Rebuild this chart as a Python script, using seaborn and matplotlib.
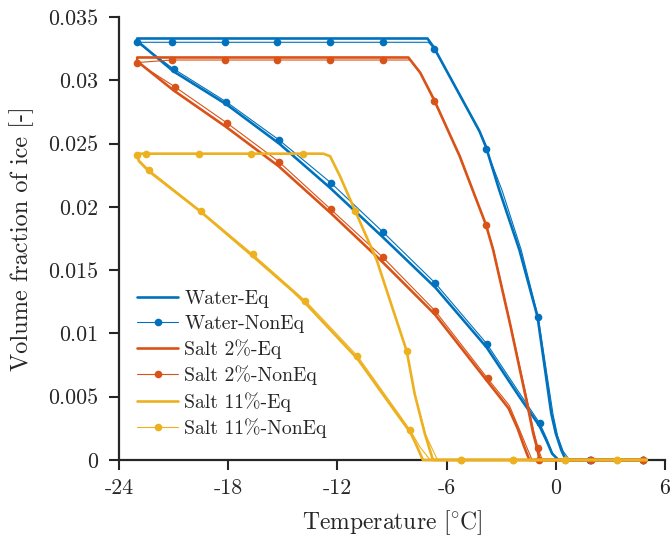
import numpy as np
import pandas as pd
import matplotlib
matplotlib.use("Agg")
import matplotlib.pyplot as plt
import seaborn as sns

# ---------------- data ----------------
water_eq_T = [5.0, 0.15, -0.2, -0.5, -0.9, -2.0, -3.8, -6.6, -9.5, -12.4, -15.2, -18.1, -21.0, -23.0,
              -23.0, -7.05, -6.7, -5.3, -4.2, -3.85, -3.1, -2.0, -1.0, -0.25, 0.0, 0.3, 0.55, 5.0]
water_eq_phi = [0, 0, 0.0005, 0.0015, 0.0027, 0.0050, 0.0089, 0.0136, 0.0176, 0.0215, 0.0250, 0.0281, 0.0307, 0.0331,
                0.0333, 0.0333, 0.0326, 0.0289, 0.0260, 0.0248, 0.0213, 0.0166, 0.0113, 0.0037, 0.0021, 0.0008, 0, 0]

water_neq_T = [5.0, 4.8, 1.9, 0.1, -0.2, -0.5, -0.88, -2.0, -3.8, -6.64, -9.49, -12.36, -15.22, -18.11, -21.0, -23.0,
               -21.1, -18.2, -15.3, -12.4, -9.5, -7.0, -6.68, -5.25, -4.15, -3.84, -2.95, -1.9, -0.97, -0.15,
               0.1, 0.4, 0.75, 1.9, 4.8, 5.0]
water_neq_phi = [0, 0, 0, 0, 0.0006, 0.0017, 0.0029, 0.0053, 0.0092, 0.0140, 0.0180, 0.0219, 0.0253, 0.0283, 0.0309, 0.0330,
                 0.0330, 0.0330, 0.0330, 0.0330, 0.0330, 0.0330, 0.0325, 0.0288, 0.0258, 0.0246, 0.0213, 0.0166, 0.0113, 0.0036,
                 0.0019, 0.0007, 0, 0, 0, 0]
water_neq_sampled = [0, 1, 1, 0, 0, 0, 1, 0, 1, 1, 1, 1, 1, 1, 1, 1,
                     1, 1, 1, 1, 1, 0, 1, 0, 0, 1, 0, 0, 1, 0,
                     0, 0, 0, 1, 1, 0]

salt2_eq_T = [5.0, -1.45, -1.75, -2.1, -2.6, -3.75, -6.64, -9.49, -12.36, -15.22, -18.1, -21.0, -23.0,
              -23.0, -8.1, -7.45, -6.7, -5.28, -3.84, -3.44, -2.52, -1.61, -1.24, -1.0, -0.9, 5.0]
salt2_eq_phi = [0, 0, 0.0011, 0.0025, 0.0041, 0.0062, 0.0115, 0.0156, 0.0195, 0.0232, 0.0263, 0.0292, 0.0315,
                0.0318, 0.0318, 0.0306, 0.0285, 0.0240, 0.0186, 0.0166, 0.0108, 0.0047, 0.0021, 0.0008, 0, 0]

salt2_neq_T = [5.0, 4.79, 1.96, -0.93, -1.3, -1.65, -2.05, -2.55, -3.75, -6.64, -9.49, -12.36, -15.22, -18.09, -20.95, -23.0,
               -21.1, -18.2, -15.3, -12.4, -9.5, -8.0, -7.4, -6.7, -5.25, -3.84, -3.42, -2.5, -1.58, -1.2,
               -0.97, -0.75, 1.96, 4.79, 5.0]
salt2_neq_phi = [0, 0, 0, 0, 0, 0.0012, 0.0026, 0.0043, 0.00645, 0.0118, 0.0160, 0.0198, 0.02357, 0.02665, 0.0295, 0.0314,
                 0.0316, 0.0316, 0.0316, 0.0316, 0.0316, 0.0316, 0.0305, 0.0284, 0.0240, 0.01857, 0.0166, 0.0108, 0.0048, 0.0022,
                 0.00092, 0, 0, 0, 0]
salt2_neq_sampled = [0, 1, 1, 1, 0, 0, 0, 0, 1, 1, 1, 1, 1, 1, 1, 1,
                     1, 1, 1, 1, 1, 0, 0, 1, 0, 1, 0, 0, 0, 0,
                     1, 0, 1, 1, 0]

salt11_eq_T = [5.0, -7.3, -7.7, -8.0, -8.56, -10.9, -13.77, -14.42, -16.65, -19.5, -22.35, -22.9, -23.0,
               -23.0, -12.77, -12.4, -11.85, -11.03, -9.84, -9.11, -8.19, -7.75, -7.2, -6.75, 5.0]
salt11_eq_phi = [0, 0, 0.0013, 0.0022, 0.0033, 0.0080, 0.0124, 0.0133, 0.0161, 0.0196, 0.0228, 0.0236, 0.0240,
                 0.0242, 0.0242, 0.0240, 0.0224, 0.0197, 0.0158, 0.0126, 0.0086, 0.0052, 0.0021, 0, 0]

salt11_neq_T = [5.0, 3.37, 0.53, -2.34, -5.2, -6.9, -7.45, -8.01, -8.56, -10.9, -13.77, -16.65, -19.5, -22.35, -22.9, -23.0,
                -22.5, -19.63, -16.76, -13.87, -12.77, -12.4, -11.85, -11.03, -9.84, -9.11, -8.19, -7.75, -7.15, -6.5,
                -5.2, -2.34, 0.53, 3.37, 5.0]
salt11_neq_phi = [0, 0, 0, 0, 0, 0, 0.0010, 0.00237, 0.0035, 0.00822, 0.01259, 0.01625, 0.01967, 0.02291, 0.0237, 0.0241,
                  0.0242, 0.0242, 0.0242, 0.0242, 0.0242, 0.0240, 0.0224, 0.0197, 0.0158, 0.0126, 0.0086, 0.0052, 0.0020, 0,
                  0, 0, 0, 0, 0]
salt11_neq_sampled = [0, 1, 1, 1, 1, 0, 0, 1, 0, 1, 1, 1, 1, 1, 0, 1,
                      1, 1, 1, 1, 0, 0, 0, 1, 0, 0, 1, 0, 0, 0,
                      1, 1, 1, 1, 0]

series_names = ["Water-Eq", "Water-NonEq", "Salt 2%-Eq", "Salt 2%-NonEq", "Salt 11%-Eq", "Salt 11%-NonEq"]
x_ticks = [-24, -18, -12, -6, 0, 6]
x_tick_labels = ["-24", "-18", "-12", "-6", "0", "6"]
y_ticks = [0, 0.005, 0.01, 0.015, 0.02, 0.025, 0.03, 0.035]
y_tick_labels = ["0", "0.005", "0.01", "0.015", "0.02", "0.025", "0.03", "0.035"]

# ---------------- style ----------------
sns.set_theme(style="white")
plt.rcParams["font.family"] = ["cmr10", "DejaVu Serif"]
plt.rcParams["mathtext.fontset"] = "cm"
plt.rcParams["axes.unicode_minus"] = False
plt.rcParams["axes.formatter.use_mathtext"] = True

BLUE, ORANGE, YELLOW = "#0072BD", "#D95319", "#EDB120"
INK = "#262626"

fig, ax = plt.subplots(figsize=(6.7, 5.39), dpi=100)
fig.subplots_adjust(left=0.1776, right=0.9925, bottom=0.1466, top=0.9685)

groups = [
    (water_eq_T, water_eq_phi, None, BLUE),
    (water_neq_T, water_neq_phi, water_neq_sampled, BLUE),
    (salt2_eq_T, salt2_eq_phi, None, ORANGE),
    (salt2_neq_T, salt2_neq_phi, salt2_neq_sampled, ORANGE),
    (salt11_eq_T, salt11_eq_phi, None, YELLOW),
    (salt11_neq_T, salt11_neq_phi, salt11_neq_sampled, YELLOW),
]

for name, (T, phi, sampled, col) in zip(series_names, groups):
    assert len(T) == len(phi)
    df = pd.DataFrame({"T": T, "phi": phi})
    if sampled is None:
        sns.lineplot(data=df, x="T", y="phi", sort=False, estimator=None, ax=ax,
                     color=col, linewidth=1.9, label=name, clip_on=False, zorder=3)
    else:
        assert len(sampled) == len(T)
        idx = [i for i, s in enumerate(sampled) if s]
        sns.lineplot(data=df, x="T", y="phi", sort=False, estimator=None, ax=ax,
                     color=col, linewidth=0.8, marker="o", markersize=5.5,
                     markeredgewidth=0, markevery=idx, label=name, clip_on=False, zorder=3)

ax.set_xlim(-24, 6)
ax.set_ylim(0, 0.035)
ax.set_xticks(x_ticks)
ax.set_xticklabels(x_tick_labels)
ax.set_yticks(y_ticks)
ax.set_yticklabels(y_tick_labels)
ax.tick_params(axis="both", direction="out", length=7, width=1.5, color=INK,
               labelsize=15.8, labelcolor=INK)
ax.tick_params(axis="y", pad=8)
ax.tick_params(axis="x", pad=6)
ax.tick_params(axis="both", which="both", bottom=True, left=True)

for s in ["top", "right"]:
    ax.spines[s].set_visible(False)
for s in ["left", "bottom"]:
    ax.spines[s].set_color(INK)
    ax.spines[s].set_linewidth(1.6)
    ax.spines[s].set_zorder(2)

ax.set_xlabel(r"Temperature [$\!^\circ\!\mathrm{C}$]", fontsize=17, color=INK, labelpad=8)
ax.set_ylabel("Volume fraction of ice [-]", fontsize=17.5, color=INK, labelpad=10)

leg = ax.legend(loc="lower left", bbox_to_anchor=(0.033, 0.05), frameon=False, fontsize=14.2,
                handlelength=2.1, handletextpad=0.3, labelspacing=0.33, borderpad=0, borderaxespad=0)
for t in leg.get_texts():
    t.set_color(INK)

fig.savefig("out.png", dpi=100, facecolor="white")
